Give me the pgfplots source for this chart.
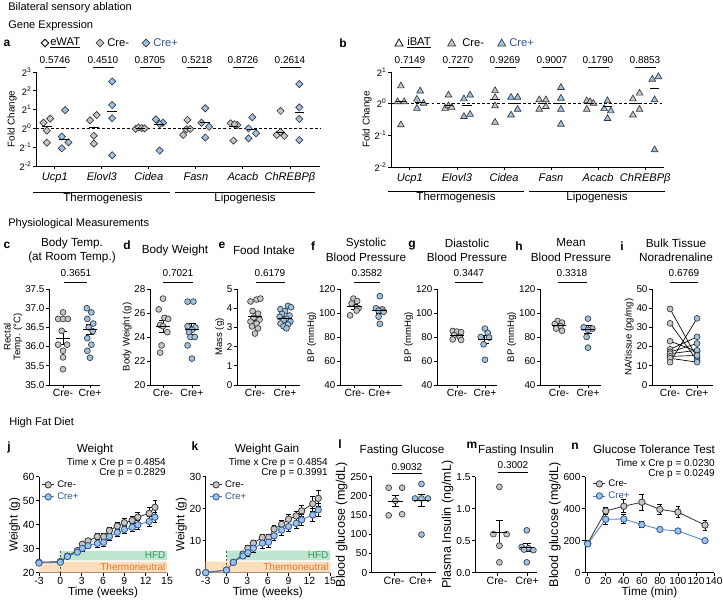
\documentclass[border=0pt]{standalone}
\usepackage{pgfplots}
\pgfplotsset{compat=1.18}
\usepackage{fontspec}
\setmainfont{Liberation Sans}
\definecolor{mfill}{HTML}{C6C6C6}
\definecolor{pfill}{HTML}{9CC2E5}
\definecolor{pline}{HTML}{4A7CC4}
\definecolor{ptext}{HTML}{2F5597}
\definecolor{medge}{HTML}{383838}
\definecolor{hfdc}{HTML}{BDE6CF}
\definecolor{hfdt}{HTML}{3A9A5B}
\definecolor{thc}{HTML}{FCDDBC}
\definecolor{tht}{HTML}{E3782A}
\newcommand\fs[1]{\fontsize{#1}{#1}\selectfont}
\pgfplotsset{
  base/.style={scale only axis, clip=false, anchor=south west,
    axis x line*=bottom, axis y line*=left,
    axis line style={-, line width=0.6pt},
    every tick/.style={black, line width=0.6pt},
    tick align=outside, major tick length=2.2pt,
    /pgf/number format/assume math mode=true,
    ticklabel style={font=\fs{7.4}, inner sep=1pt},
    ylabel style={font=\fs{7.2}, inner sep=1pt},
    xlabel style={inner sep=1pt}},
  mdot/.style={only marks, mark=*, mark size=2.2pt, mark options={fill=mfill, draw=medge, line width=0.5pt}},
  pdot/.style={only marks, mark=*, mark size=2.2pt, mark options={fill=pfill, draw=medge, line width=0.5pt}},
  sem/.style={only marks, mark=-, mark size=5.5pt, mark options={black, line width=0.7pt},
    error bars/y dir=both, error bars/y explicit, error bars/error bar style={black, line width=0.7pt},
    error bars/error mark options={rotate=90, black, line width=0.7pt, mark size=2.8pt}},
  cats/.style={xtick={1,2}, xticklabels={Cre-,Cre+}, xticklabel style={font=\fs{7.8}}},
  meanline/.style={only marks, mark=-, mark size=3.6pt, mark options={black, line width=0.6pt}},
  mdia/.style={only marks, mark=square*, mark size=1.9pt, mark options={rotate=45, fill=mfill, draw=medge, line width=0.5pt}},
  pdia/.style={only marks, mark=square*, mark size=1.9pt, mark options={rotate=45, fill=pfill, draw=medge, line width=0.5pt}},
  mtri/.style={only marks, mark=triangle*, mark size=2.9pt, mark options={fill=mfill, draw=medge, line width=0.5pt}},
  ptri/.style={only marks, mark=triangle*, mark size=2.9pt, mark options={fill=pfill, draw=medge, line width=0.5pt}},
  tline/.style={line width=0.6pt, mark=*, mark size=2.4pt,
    error bars/y dir=both, error bars/y explicit, error bars/error bar style={line width=0.5pt, black},
    error bars/error mark options={rotate=90, black, line width=0.5pt, mark size=1.8pt}},
  tleg/.style={legend style={draw=none, fill=none, font=\fs{7.2}, inner sep=0pt, row sep=-1.5pt},
    legend cell align=left,
    legend image code/.code={\draw[##1, mark repeat=2, mark phase=2] plot coordinates {(0pt,0pt)(4.5pt,0pt)(9pt,0pt)};}},
}
\begin{document}
\begin{tikzpicture}
\useasboundingbox (0,0) rectangle (542.25pt,453.75pt);

% ---------------- a ----------------
\begin{axis}[base, at={(27pt,329.25pt)}, width=213pt, height=70.5pt,
  xmin=0.6, xmax=6.64, ymin=-2, ymax=3, ytick={-2,-1,0,1,2,3},
  yticklabels={2\textsuperscript{-2},2\textsuperscript{-1},2\textsuperscript{0},2\textsuperscript{1},2\textsuperscript{2},2\textsuperscript{3}},
  yticklabel style={font=\fs{7}},
  xtick={1,2,3,4,5,6}, xticklabels={Ucp1,Elovl3,Cidea,Fasn,Acacb,ChREBPβ},
  xticklabel style={font=\fs{8.3}\itshape, yshift=-1.8pt},
  ylabel={Fold Change}, ylabel style={font=\fs{7.4}}]
\addplot[black, line width=0.8pt, dash pattern=on 2.2pt off 1.6pt] coordinates {(0.6,0)(6.64,0)};
\addplot[mdia] coordinates {
(0.76,0.30)(0.90,0.52)(0.83,-0.12)(0.83,-0.76)
(1.75,0.43)(1.89,0.71)(1.83,-0.39)(1.83,-0.81)
(2.72,-0.03)(2.78,0.05)(2.85,0.02)(2.91,0.0)
(3.82,0.45)(3.73,-0.35)(3.80,-0.05)(3.88,-0.03)
(4.74,0.27)(4.88,0.18)(4.82,0.22)(4.80,-0.65)
(5.80,0.93)(5.72,-0.35)(5.88,-0.40)(5.80,-0.19)};
\addplot[pdia] coordinates {
(1.22,0.97)(1.15,-0.44)(1.29,-0.74)(1.15,-1.06)
(2.22,2.5)(2.22,1.24)(2.22,0.54)(2.22,-1.43)
(3.15,0.48)(3.30,0.30)(3.23,0.23)(3.23,-1.18)
(4.20,1.07)(4.12,0.30)(4.28,0.09)(4.20,-0.49)
(5.20,0.59)(5.12,0.0)(5.28,-0.26)(5.12,-0.53)
(6.20,2.36)(6.20,1.12)(6.20,0.50)(6.20,-0.62)};
\addplot[meanline] coordinates {(0.83,0.13)(1.83,0.07)(2.82,0.0)(3.8,0.0)(4.8,0.12)(5.8,-0.19)};
\addplot[meanline] coordinates {(1.2,-0.58)(2.22,0.93)(3.22,0.23)(4.2,0.3)(5.2,-0.05)(6.2,0.84)};
\end{axis}

% ---------------- b ----------------
\begin{axis}[base, at={(293.25pt,328.5pt)}, width=204.75pt, height=71.25pt,
  xmin=0.6, xmax=6.4, ymin=-2, ymax=1, ytick={-2,-1,0,1},
  yticklabels={2\textsuperscript{-2},2\textsuperscript{-1},2\textsuperscript{0},2\textsuperscript{1}},
  yticklabel style={font=\fs{7}},
  xtick={1,2,3,4,5,6}, xticklabels={Ucp1,Elovl3,Cidea,Fasn,Acacb,ChREBPβ},
  xticklabel style={font=\fs{8.3}\itshape, yshift=-1.8pt},
  ylabel={Fold Change}, ylabel style={font=\fs{7.4}}]
\addplot[black, line width=0.8pt, dash pattern=on 2.2pt off 1.6pt] coordinates {(0.6,0)(6.4,0)};
\addplot[mtri] coordinates {
(0.81,0.56)(0.74,0.06)(0.88,0.06)(0.81,-0.67)
(1.82,0.27)(1.75,-0.15)(1.82,-0.07)(1.89,-0.12)
(2.81,0.41)(2.81,0.19)(2.81,-0.07)(2.81,-0.59)
(3.75,0.12)(3.89,0.12)(3.75,-0.18)(3.89,-0.09)
(4.76,0.09)(4.83,0.06)(4.90,0.01)(4.76,-0.18)
(5.74,0.15)(5.88,0.33)(5.88,-0.18)(5.74,-0.36)};
\addplot[ptri] coordinates {
(1.22,0.40)(1.15,0.14)(1.29,0.01)(1.15,-0.15)
(2.15,0.15)(2.28,0.27)(2.15,-0.41)(2.28,-0.34)
(3.15,0.20)(3.29,0.20)(3.15,-0.36)(3.29,-0.18)
(4.21,0.51)(4.21,0.17)(4.21,-0.18)(4.21,-0.65)
(5.20,0.09)(5.13,-0.16)(5.27,-0.23)(5.20,-0.47)
(6.15,0.77)(6.28,0.85)(6.20,0.12)(6.20,-1.46)};
\addplot[meanline] coordinates {(0.81,0.06)(1.82,-0.07)(2.81,0.12)(3.82,0.0)(4.82,0.0)(5.81,0.0)};
\addplot[meanline] coordinates {(1.22,0.05)(2.22,-0.04)(3.22,0.0)(4.21,0.0)(5.2,-0.1)(6.2,0.48)};
\end{axis}

% ---------------- c ----------------
\begin{axis}[base, cats, at={(36.75pt,165pt)}, width=38.25pt, height=72pt,
  xmin=0.48, xmax=2.37, ymin=35, ymax=37.5, ytick={35,35.5,36,36.5,37,37.5},
  yticklabel style={/pgf/number format/.cd, fixed, fixed zerofill, precision=1},
  ylabel={Rectal\\Temp. (°C)}, ylabel style={align=center}]
\addplot[mdot] coordinates {(1,36.89)(0.82,36.72)(1.0,36.72)(1.18,36.72)(0.95,36.41)(0.82,36.05)(1.15,36.05)(1,35.89)(1.0,35.72)(1,35.41)};
\addplot[pdot] coordinates {(1.88,37.0)(2.05,36.89)(1.9,36.72)(2.12,36.6)(1.95,36.5)(2.1,36.4)(1.9,36.22)(2.05,36.05)(1.9,35.89)(2.0,35.71)};
\addplot[sem] coordinates {(1,36.22) +- (0,0.17) (2,36.44) +- (0,0.13)};
\end{axis}

% ---------------- d ----------------
\begin{axis}[base, cats, at={(112.5pt,165pt)}, width=37.5pt, height=72pt,
  xmin=0.55, xmax=2.28, ymin=20, ymax=28, ytick={20,22,24,26,28},
  ylabel={Body Weight (g)}]
\addplot[mdot] coordinates {(1,27.2)(0.85,26.3)(1.05,25.6)(1.18,25.5)(0.9,25.0)(1.15,24.4)(1.0,24.9)(0.95,23.3)(0.9,22.7)};
\addplot[pdot] coordinates {(1.85,26.95)(2.05,26.95)(1.85,24.9)(2.12,24.8)(2.0,24.6)(1.9,24.4)(1.95,24.0)(2.1,24.0)(1.85,23.3)(2.0,22.2)};
\addplot[sem] coordinates {(1,24.9) +- (0,0.5) (2,24.65) +- (0,0.45)};
\end{axis}

% ---------------- e ----------------
\begin{axis}[base, cats, at={(177.75pt,165pt)}, width=47.25pt, height=72pt,
  xmin=0.4, xmax=2.5, ymin=0, ymax=5, ytick={0,1,2,3,4,5},
  ylabel={Mass (g)}]
\addplot[mdot] coordinates {(0.85,4.35)(1.05,4.45)(1.18,4.5)(0.92,3.85)(1.1,3.72)(0.95,3.5)(1.15,3.4)(0.85,3.3)(1.05,3.2)(0.9,3.05)(1.1,2.95)(1.0,2.68)};
\addplot[pdot] coordinates {(2.1,4.12)(2.2,4.05)(1.85,3.95)(2.0,3.85)(1.9,3.7)(2.15,3.62)(1.82,3.55)(2.05,3.45)(1.95,3.38)(2.18,3.3)(1.85,3.2)(2.1,3.15)(1.95,3.05)(2.05,2.95)};
\addplot[sem] coordinates {(1,3.55) +- (0,0.18) (2,3.48) +- (0,0.1)};
\end{axis}

% ---------------- f ----------------
\begin{axis}[base, cats, at={(255pt,165pt)}, width=46.5pt, height=72pt,
  xmin=0.42, xmax=2.88, ymin=40, ymax=120, ytick={40,60,80,100,120},
  ylabel={BP (mmHg)}]
\addplot[mdot] coordinates {(0.95,112)(1.1,110)(0.88,108)(1.15,104)(1.08,102)(0.82,98)};
\addplot[pdot] coordinates {(2,114)(1.85,104)(2.1,103)(1.95,102)(2.15,101)(1.95,97)(2,91)};
\addplot[sem] coordinates {(1,105.2) +- (0,2) (2,101.7) +- (0,2.5)};
\end{axis}

% ---------------- g ----------------
\begin{axis}[base, cats, at={(327.75pt,165pt)}, width=45pt, height=72pt,
  xmin=0.29, xmax=2.43, ymin=40, ymax=120, ytick={40,60,80,100,120},
  ylabel={BP (mmHg)}]
\addplot[mdot] coordinates {(0.85,85)(1.0,84.5)(1.15,84)(0.9,81.5)(1.1,80)(0.85,78)(1.15,77.5)};
\addplot[pdot] coordinates {(2,87)(2.1,83.5)(1.85,80)(2.15,79.5)(1.95,73.9)(2,61)};
\addplot[sem] coordinates {(1,81.5) +- (0,1.3) (2,78) +- (0,3.5)};
\end{axis}

% ---------------- h ----------------
\begin{axis}[base, cats, at={(405pt,165pt)}, width=45.75pt, height=72pt,
  xmin=0.34, xmax=2.45, ymin=40, ymax=120, ytick={40,60,80,100,120},
  ylabel={BP (mmHg)}]
\addplot[mdot] coordinates {(0.95,93.3)(1.1,92)(0.85,90.8)(1.05,89)(0.9,87)(1.1,85.2)};
\addplot[pdot] coordinates {(2,95.3)(1.85,88)(2.15,87)(2,86)(1.95,80.1)(2,71.1)};
\addplot[sem] coordinates {(1,89.5) +- (0,1.2) (2,86.3) +- (0,3)};
\end{axis}

% ---------------- i ----------------
\begin{axis}[base, cats, at={(489pt,165pt)}, width=45.75pt, height=72pt,
  xmin=0.33, xmax=2.59, ymin=0, ymax=50, ytick={0,10,20,30,40,50},
  ylabel={NA/tissue (pg/mg)}]
\addplot[black, line width=0.5pt] coordinates {(1,39.6)(2,14.2)};
\addplot[black, line width=0.5pt] coordinates {(1,32.1)(2,12.8)};
\addplot[black, line width=0.5pt] coordinates {(1,22.8)(2,17.5)};
\addplot[black, line width=0.5pt] coordinates {(1,18.6)(2,25.1)};
\addplot[black, line width=0.5pt] coordinates {(1,17.2)(2,21.6)};
\addplot[black, line width=0.5pt] coordinates {(1,16.3)(2,18.1)};
\addplot[black, line width=0.5pt] coordinates {(1,14.9)(2,15.4)};
\addplot[black, line width=0.5pt] coordinates {(1,13.9)(2,11.9)};
\addplot[black, line width=0.5pt] coordinates {(1,11.9)(2,34.7)};
\addplot[mdot] coordinates {(1,39.6)(1,32.1)(1,22.8)(1,18.6)(1,17.2)(1,16.3)(1,14.9)(1,13.9)(1,11.9)};
\addplot[pdot] coordinates {(2,14.2)(2,12.8)(2,17.5)(2,25.1)(2,21.6)(2,18.1)(2,15.4)(2,11.9)(2,34.7)};
\end{axis}

% ---------------- j ----------------
\begin{axis}[base, tleg, at={(29.25pt,24.3pt)}, width=96pt, height=72pt,
  xmin=-3, xmax=15, ymin=20, ymax=60, xtick={-3,0,3,6,9,12,15}, ytick={20,30,40,50,60},
  ticklabel style={font=\fs{7.8}},
  xlabel={Time (weeks)}, ylabel={Weight (g)},
  xlabel style={font=\fs{8.8}}, ylabel style={font=\fs{8.8}},
  legend style={at={(0.02,0.99)}, anchor=north west}]
\addplot[fill=thc, draw=none, forget plot] coordinates {(-3,20)(15,20)(15,24.6)(-3,24.6)(-3,20)};
\addplot[fill=hfdc, draw=none, forget plot] coordinates {(0,25.1)(15,25.1)(15,29)(0,29)(0,25.1)};
\addplot[black!70, line width=0.6pt, dash pattern=on 1.5pt off 1.5pt, forget plot] coordinates {(0,20)(0,30)};
\node[anchor=east, font=\fs{7.5}, text=hfdt, inner sep=1pt] at (axis cs:15,27.1) {HFD};
\node[anchor=east, font=\fs{7.5}, text=tht, inner sep=1pt] at (axis cs:15,22.3) {Thermoneutral};
\addplot[tline, color=black!80, mark options={fill=mfill, draw=medge}] coordinates {
(-3,24.3) +- (0,0.5) (0,24.6) +- (0,0.6) (1,26.9) +- (0,0.7) (2.4,29.2) +- (0,1) (3.1,31.8) +- (0,1)
(3.9,33.2) +- (0,1) (5.2,35.0) +- (0,1.2) (6.1,35.0) +- (0,1.2) (6.9,37.5) +- (0,1.2) (8.0,39.4) +- (0,1.5)
(9.0,40.8) +- (0,1.7) (10.1,41.7) +- (0,1.8) (10.9,43.1) +- (0,2) (12.5,44.7) +- (0,2.5) (13.3,47.2) +- (0,3)};
\addlegendentry{Cre-}
\addplot[tline, color=pline, mark options={fill=pfill, draw=ptext}] coordinates {
(-3,24.0) +- (0,0.5) (0,24.3) +- (0,0.5) (1,26.7) +- (0,0.7) (2.4,28.5) +- (0,1) (3.1,30.1) +- (0,1.2)
(3.9,31.2) +- (0,1.2) (5.2,32.2) +- (0,1.5) (6.1,32.6) +- (0,1.5) (6.9,35.0) +- (0,1.5) (8.0,36.7) +- (0,1.5)
(9.0,38.0) +- (0,1.5) (10.1,38.9) +- (0,1.8) (10.9,39.9) +- (0,2) (12.5,41.3) +- (0,2) (13.3,43.1) +- (0,2)};
\addlegendentry{\textcolor{ptext}{Cre+}}
\end{axis}

% ---------------- k ----------------
\begin{axis}[base, tleg, at={(154.3pt,24.3pt)}, width=93.2pt, height=72pt,
  xmin=-3, xmax=15, ymin=0, ymax=30, xtick={-3,0,3,6,9,12,15}, ytick={0,10,20,30},
  ticklabel style={font=\fs{7.8}},
  xlabel={Time (weeks)}, ylabel={Weight (g)},
  xlabel style={font=\fs{8.8}}, ylabel style={font=\fs{8.8}},
  legend style={at={(0.03,0.99)}, anchor=north west}]
\addplot[fill=thc, draw=none, forget plot] coordinates {(-3,0)(15,0)(15,3.4)(-3,3.4)(-3,0)};
\addplot[fill=hfdc, draw=none, forget plot] coordinates {(0,3.8)(15,3.8)(15,6.9)(0,6.9)(0,3.8)};
\addplot[black!70, line width=0.6pt, dash pattern=on 1.5pt off 1.5pt, forget plot] coordinates {(0,0)(0,7.2)};
\node[anchor=east, font=\fs{7.5}, text=hfdt, inner sep=1pt] at (axis cs:15,5.35) {HFD};
\node[anchor=east, font=\fs{7.5}, text=tht, inner sep=1pt] at (axis cs:15,1.7) {Thermoneutral};
\addplot[tline, color=black!80, mark options={fill=mfill, draw=medge}] coordinates {
(-3,0) +- (0,0) (0,0.8) +- (0,0.3) (1,3.2) +- (0,0.5) (2.4,5.8) +- (0,0.7) (3.1,7.6) +- (0,0.8)
(3.9,9.2) +- (0,0.9) (5.2,11.0) +- (0,1) (6.1,11.0) +- (0,1) (6.9,13.6) +- (0,1.2) (8.0,15.1) +- (0,1.3)
(9.0,16.7) +- (0,1.5) (10.1,17.7) +- (0,1.6) (10.9,19.3) +- (0,1.8) (12.5,21.5) +- (0,2.2) (13.3,23.2) +- (0,2.5)};
\addlegendentry{Cre-}
\addplot[tline, color=pline, mark options={fill=pfill, draw=ptext}] coordinates {
(-3,0) +- (0,0) (0,0.8) +- (0,0.3) (1,3.2) +- (0,0.5) (2.4,5.2) +- (0,0.8) (3.1,6.2) +- (0,1)
(3.9,7.6) +- (0,1.2) (5.2,9.2) +- (0,1.5) (6.1,9.5) +- (0,1.5) (6.9,11.5) +- (0,1.5) (8.0,13.3) +- (0,1.5)
(9.0,14.4) +- (0,1.6) (10.1,15.4) +- (0,1.7) (10.9,16.5) +- (0,1.8) (12.5,18.0) +- (0,2) (13.3,19.6) +- (0,2)};
\addlegendentry{\textcolor{ptext}{Cre+}}
\end{axis}

% ---------------- l ----------------
\begin{axis}[base, cats, at={(278.8pt,24.3pt)}, width=48.2pt, height=72pt,
  xmin=0.17, xmax=2.56, ymin=0, ymax=250, ytick={0,50,100,150,200,250},
  ticklabel style={font=\fs{7.6}}, xticklabel style={font=\fs{8}},
  ylabel={Blood glucose (mg/dL)}, ylabel style={font=\fs{9.4}}]
\addplot[mdot] coordinates {(0.8,221)(1.3,221)(1.05,187)(0.8,149)(1.3,152)};
\addplot[pdot] coordinates {(2.02,231)(1.78,193)(2.02,193)(2.26,193)(2.02,99)};
\addplot[sem] coordinates {(1.05,186) +- (0,15) (2.02,187) +- (0,16)};
\end{axis}

% ---------------- m ----------------
\begin{axis}[base, cats, at={(356.25pt,24.3pt)}, width=46.5pt, height=72pt,
  xmin=0.27, xmax=2.33, ymin=0, ymax=1.5, ytick={0,0.5,1,1.5},
  ticklabel style={font=\fs{7.6}}, xticklabel style={font=\fs{8}},
  yticklabel style={/pgf/number format/.cd, fixed, fixed zerofill, precision=1},
  ylabel={Plasma Insulin (ng/mL)}, ylabel style={font=\fs{9.4}}]
\addplot[mdot] coordinates {(1.08,1.34)(0.88,0.60)(1.32,0.60)(1.08,0.42)(1.08,0.16)};
\addplot[pdot] coordinates {(1.99,0.66)(1.82,0.40)(2.04,0.38)(2.21,0.35)(1.9,0.36)(1.99,0.16)};
\addplot[sem] coordinates {(1.08,0.62) +- (0,0.2) (2.0,0.39) +- (0,0.06)};
\end{axis}

% ---------------- n ----------------
\begin{axis}[base, tleg, at={(438.75pt,24.3pt)}, width=96.75pt, height=72pt,
  xmin=-3, xmax=140, ymin=0, ymax=600, xtick={0,20,40,60,80,100,120,140}, ytick={0,200,400,600},
  ticklabel style={font=\fs{7.6}},
  xlabel={Time (min)}, ylabel={Blood glucose (mg/dL)},
  xlabel style={font=\fs{8.8}}, ylabel style={font=\fs{9.4}},
  legend style={at={(0.06,1.0)}, anchor=north west}]
\addplot[tline, color=black!80, mark options={fill=mfill, draw=medge}] coordinates {
(0,183) +- (0,10) (20,385) +- (0,20) (40,415) +- (0,40) (60,440) +- (0,50) (80,395) +- (0,30) (100,378) +- (0,35) (130,297) +- (0,30)};
\addlegendentry{Cre-}
\addplot[tline, color=pline, mark options={fill=pfill, draw=ptext}] coordinates {
(0,179) +- (0,10) (20,333) +- (0,30) (40,335) +- (0,30) (60,300) +- (0,20) (80,270) +- (0,12) (100,260) +- (0,10) (130,200) +- (0,10)};
\addlegendentry{\textcolor{ptext}{Cre+}}
\end{axis}

% ---------------- annotations (pixel coordinates) ----------------
\begin{scope}[x=0.75pt, y=-0.75pt, shift={(0pt,453.75pt)}]
\tikzset{hd/.style={anchor=west, font=\fs{8.3}, inner sep=0pt},
  lt/.style={font=\fs{9}\bfseries, inner sep=0pt},
  tt/.style={font=\fs{8.8}, inner sep=0pt},
  pv/.style={font=\fs{7.5}, inner sep=0pt},
  bar/.style={line width=0.6pt}}
\node[hd] at (8,8) {Bilateral sensory ablation};
\node[hd] at (8,26) {Gene Expression};
\node[hd] at (8,224) {Physiological Measurements};
\node[hd] at (9,423) {High Fat Diet};
% letters
\node[lt] at (7,43) {a};
\node[lt] at (343,43) {b};
\node[lt] at (7,245) {c};
\node[lt] at (127,245) {d};
\node[lt] at (222,245) {e};
\node[lt] at (313,246) {f};
\node[lt] at (412,246) {g};
\node[lt] at (519,246) {h};
\node[lt] at (622,246) {i};
\node[lt] at (9,447) {j};
\node[lt] at (195,446) {k};
\node[lt] at (340,444) {l};
\node[lt] at (472,445) {m};
\node[lt] at (575,446) {n};
% legend a
\draw[line width=0.6pt, black] (45,39.2) -- (48.8,43) -- (45,46.8) -- (41.2,43) -- cycle;
\node[anchor=west, font=\fs{8.4}, inner sep=0pt] at (50,43) {\underline{eWAT}};
\draw[line width=0.5pt, fill=mfill, draw=medge] (100,39.2) -- (103.8,43) -- (100,46.8) -- (96.2,43) -- cycle;
\node[anchor=west, font=\fs{8.4}, inner sep=0pt] at (107,43) {Cre-};
\draw[line width=0.5pt, fill=pfill, draw=medge] (146,39.2) -- (149.8,43) -- (146,46.8) -- (142.2,43) -- cycle;
\node[anchor=west, font=\fs{8.4}, inner sep=0pt, text=ptext] at (153,43) {Cre+};
% legend b
\draw[line width=0.6pt, black] (399,39) -- (403,46) -- (395,46) -- cycle;
\node[anchor=west, font=\fs{8.4}, inner sep=0pt] at (407,43) {\underline{iBAT}};
\draw[line width=0.5pt, fill=mfill, draw=medge] (451.7,39) -- (455.7,46) -- (447.7,46) -- cycle;
\node[anchor=west, font=\fs{8.4}, inner sep=0pt] at (462,43) {Cre-};
\draw[line width=0.5pt, fill=pfill, draw=medge] (501.7,39) -- (505.7,46) -- (497.7,46) -- cycle;
\node[anchor=west, font=\fs{8.4}, inner sep=0pt, text=ptext] at (509,43) {Cre+};
% p values a
\foreach \cx/\pt in {55/0.5746, 103/0.4510, 150/0.8705, 197/0.5218, 243/0.8726, 290/0.2614} {
  \node[pv] at (\cx,60) {\pt};
  \draw[bar] (\cx-10.5,67) -- (\cx+10.5,67);
}
\foreach \cx/\pt in {410/0.7149, 458/0.7270, 505/0.9269, 552/0.9007, 598/0.1790, 645/0.8853} {
  \node[pv] at (\cx,60) {\pt};
  \draw[bar] (\cx-10.5,67) -- (\cx+10.5,67);
}
% group lines
\draw[bar] (33,192) -- (170,192);
\draw[bar] (175,192) -- (315,192);
\node[tt, font=\fs{8.6}] at (103,199) {Thermogenesis};
\node[tt, font=\fs{8.6}] at (245,199) {Lipogenesis};
\draw[bar] (388,191) -- (524,191);
\draw[bar] (529,191) -- (665,191);
\node[tt, font=\fs{8.6}] at (456,198) {Thermogenesis};
\node[tt, font=\fs{8.6}] at (597,198) {Lipogenesis};
% row 2 titles
\node[tt] at (72,243) {Body Temp.};
\node[tt] at (72,257) {(at Room Temp.)};
\node[tt] at (175,250) {Body Weight};
\node[tt] at (264,250) {Food Intake};
\node[tt] at (366,243) {Systolic};
\node[tt] at (366,257) {Blood Pressure};
\node[tt] at (467,243) {Diastolic};
\node[tt] at (467,257) {Blood Pressure};
\node[tt] at (571,243) {Mean};
\node[tt] at (571,257) {Blood Pressure};
\node[tt] at (676,243) {Bulk Tissue};
\node[tt] at (676,257) {Noradrenaline};
% row 2 p values
\node[pv] at (76,273) {0.3651}; \draw[bar] (64,282) -- (87,282);
\node[pv] at (178,273) {0.7021}; \draw[bar] (163,282) -- (193,282);
\node[pv] at (270,273) {0.6179}; \draw[bar] (256,282) -- (285,282);
\node[pv] at (367,273) {0.3582}; \draw[bar] (354,282) -- (380,282);
\node[pv] at (469,273) {0.3447}; \draw[bar] (455,282) -- (483,282);
\node[pv] at (572,273) {0.3318}; \draw[bar] (558,282) -- (587,282);
\node[pv] at (684,273) {0.6769}; \draw[bar] (670,282) -- (698,282);
% row 3 titles
\node[tt] at (95,449) {Weight};
\node[tt] at (267,449) {Weight Gain};
\node[tt] at (402,450) {Fasting Glucose};
\node[tt] at (516,450) {Fasting Insulin};
\node[tt] at (654,449) {Glucose Tolerance Test};
\node[pv, anchor=east] at (166,463) {Time x Cre p = 0.4854};
\node[pv, anchor=east] at (166,473) {Cre p = 0.2829};
\node[pv, anchor=east] at (328,463) {Time x Cre p = 0.4854};
\node[pv, anchor=east] at (328,473) {Cre p = 0.3991};
\node[pv, anchor=east] at (715,464) {Time x Cre p = 0.0230};
\node[pv, anchor=east] at (715,474) {Cre p = 0.0249};
\node[pv] at (407,467) {0.9032}; \draw[bar] (392,473.5) -- (422,473.5);
\node[pv] at (513,465) {0.3002}; \draw[bar] (498,472.5) -- (528,472.5);
\end{scope}
\end{tikzpicture}
\end{document}
